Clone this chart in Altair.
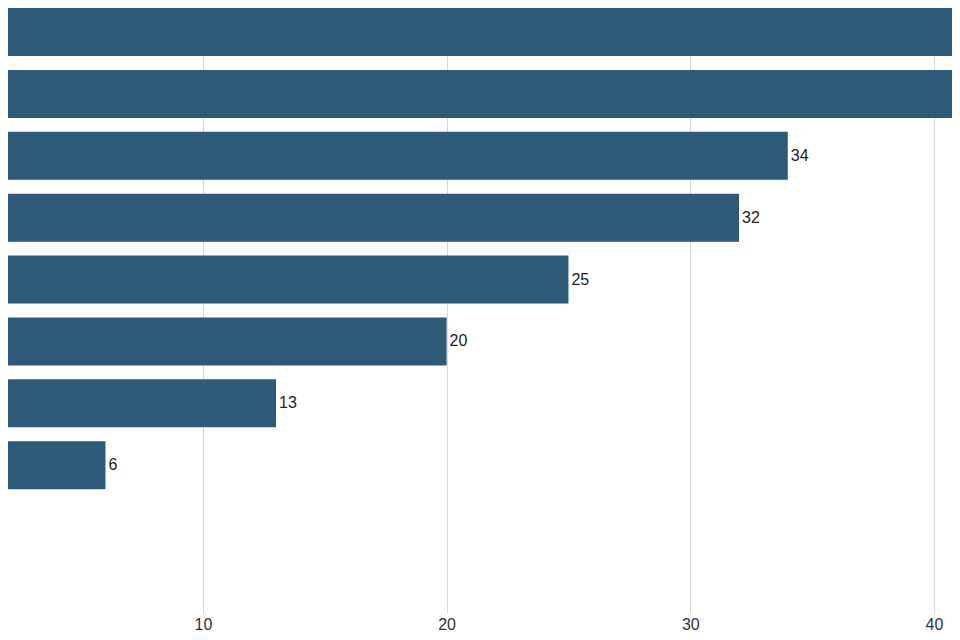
import altair as alt
import pandas as pd

categories = ["Item A", "Item B", "Item C", "Item D", "Item E",
              "Item F", "Item G", "Item H", "Item I", "Item J"]
values = [48, 44, 34, 32, 25, 20, 13, 6, None, None]
# labels of the two longest bars fall outside the visible area in the reference
labels = ["", "", "34", "32", "25", "20", "13", "6", "", ""]
tick_values = [10, 20, 30, 40]

df = pd.DataFrame({"category": categories, "value": values, "label": labels})

bar_color = "#2d5a78"

x_enc = alt.X(
    "value:Q",
    scale=alt.Scale(domain=[2, 40.74], nice=False, zero=False),
    axis=alt.Axis(
        values=tick_values,
        title=None,
        domain=False,
        ticks=False,
        grid=True,
        gridColor="#d9d9d9",
        gridWidth=1,
        labelFont="Liberation Sans",
        labelFontSize=16,
        labelColor="#333333",
        labelPadding=3,
        labelFlush=False,
    ),
)
y_enc = alt.Y(
    "category:N",
    sort=categories,
    scale=alt.Scale(domain=categories, range=[0, 605], paddingInner=0.2246, paddingOuter=0),
    axis=None,
)

bars = alt.Chart(df).mark_bar(color=bar_color, clip=True).encode(x=x_enc, y=y_enc)

text = alt.Chart(df).mark_text(
    align="left", baseline="middle", dx=3, clip=True,
    font="Liberation Sans", fontSize=16, color="#222222",
).encode(x=alt.X("value:Q"), y=alt.Y("category:N", sort=categories), text="label:N")

chart = alt.layer(bars, text).properties(
    width=944,
    height=624,
    autosize=alt.AutoSizeParams(type="fit", contains="padding"),
    padding=0,
    background="white",
).configure_view(stroke=None)

chart.save("out.html", embed_options={"renderer": "svg", "actions": False})
